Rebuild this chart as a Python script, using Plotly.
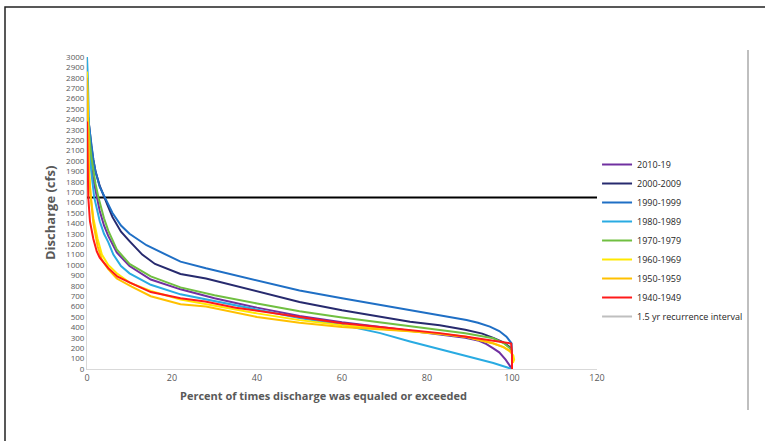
import plotly.graph_objects as go

# ---- data ----
series_names = ["2010-19", "2000-2009", "1990-1999", "1980-1989", "1970-1979",
                "1960-1969", "1950-1959", "1940-1949"]

x_2010 = [0, 0.5, 1, 1.5, 2, 2.3, 3, 4, 5, 7, 10, 15, 22, 30, 40, 50, 60, 70, 76, 83, 89, 92, 94, 95.6, 97, 98.5, 99.5, 100]
y_2010 = [2300, 2100, 1950, 1820, 1720, 1650, 1520, 1380, 1280, 1120, 990, 860, 766, 680, 590, 510, 450, 400, 370, 335, 300, 275, 240, 199, 160, 90, 25, 0]

x_2000 = [0.3, 0.7, 1, 1.5, 2, 3, 4.2, 5, 6, 8, 10, 13, 16, 22, 28, 35, 40, 50, 60, 70, 76, 83, 89, 93, 95.6, 98, 99.5, 100]
y_2000 = [2420, 2250, 2150, 2010, 1900, 1760, 1650, 1560, 1460, 1320, 1230, 1100, 1010, 913, 870, 800, 745, 645, 565, 495, 455, 420, 378, 340, 300, 255, 210, 170]

x_1990 = [0.3, 0.7, 1, 1.5, 2, 3, 4.2, 5, 6, 8, 10, 14, 18.4, 22, 28, 35, 40, 50, 60, 70, 76, 83, 89.3, 92, 94.8, 97, 98.7, 99.9, 100]
y_1990 = [2400, 2250, 2150, 2010, 1900, 1750, 1650, 1580, 1500, 1380, 1300, 1190, 1100, 1032, 968, 900, 850, 755, 680, 610, 567, 519, 471, 445, 407, 365, 311, 247, 120]

x_1980 = [0, 0.2, 0.5, 1, 1.7, 2.5, 3, 4, 5, 6.2, 8, 10, 15, 22, 28, 35, 40, 50, 60, 69, 76, 83, 89.3, 95.6, 100]
y_1980 = [3000, 2800, 2300, 1900, 1650, 1490, 1420, 1300, 1220, 1100, 990, 920, 810, 718, 670, 610, 570, 490, 425, 345, 265, 190, 125, 58, 0]

x_1970 = [0, 0.5, 1, 1.5, 2, 2.7, 4, 5, 7, 10, 15, 22, 30, 40, 50, 60, 70, 76, 83, 89, 95.6, 98, 99.5, 100]
y_1970 = [2600, 2250, 2050, 1900, 1780, 1650, 1450, 1330, 1150, 1010, 890, 785, 710, 630, 555, 495, 440, 407, 375, 343, 295, 250, 200, 167]

x_1960 = [0, 0.2, 0.5, 0.9, 1.5, 2.5, 3.5, 5, 7, 10, 15, 22, 30, 40, 50, 60, 70, 76, 83, 89.3, 95.6, 98, 99.5, 100.3, 100.5, 100.2]
y_1960 = [2860, 2400, 1900, 1650, 1450, 1250, 1100, 1000, 920, 830, 750, 668, 610, 535, 470, 420, 385, 365, 340, 311, 247, 210, 170, 130, 90, 60]

x_1950 = [0, 0.2, 0.5, 0.9, 1.5, 2.5, 3.5, 5, 7, 10.5, 15, 22, 28, 40, 50, 60, 70, 76, 83, 89.3, 95.6, 98, 99.5, 100]
y_1950 = [2800, 2300, 1850, 1650, 1400, 1180, 1050, 960, 870, 792, 700, 622, 600, 500, 445, 405, 380, 362, 338, 308, 245, 210, 175, 150]

x_1940 = [0, 0.1, 0.3, 0.7, 1.5, 2.3, 3, 5, 7.2, 10.5, 15, 22, 27.8, 35, 40, 50, 60, 70, 76, 83, 89.3, 95.6, 99, 99.8, 100, 100]
y_1940 = [2380, 2000, 1650, 1420, 1250, 1130, 1070, 970, 888, 824, 740, 680, 648, 590, 560, 495, 440, 398, 375, 345, 311, 272, 255, 245, 150, 0]

recurrence_x = [0, 120]
recurrence_y = [1650, 1650]

x_ticks = [0, 20, 40, 60, 80, 100, 120]

xs = [x_2010, x_2000, x_1990, x_1980, x_1970, x_1960, x_1950, x_1940]
ys = [y_2010, y_2000, y_1990, y_1980, y_1970, y_1960, y_1950, y_1940]
colors = ["#7030A0", "#272A6E", "#1F6FC5", "#29ABE2", "#70BF41",
          "#FFE800", "#FFC000", "#FF1A1A"]

fig = go.Figure()

# recurrence interval line (black in the plot)
fig.add_trace(go.Scatter(x=recurrence_x, y=recurrence_y, mode="lines",
                         line=dict(color="black", width=2), showlegend=False,
                         hoverinfo="skip"))

for name, xv, yv, c in zip(series_names, xs, ys, colors):
    fig.add_trace(go.Scatter(x=xv, y=yv, mode="lines", name=name,
                             line=dict(color=c, width=2)))

# legend entry for the recurrence interval (gray in the legend)
fig.add_trace(go.Scatter(x=[None], y=[None], mode="lines",
                         name="1.5 yr recurrence interval",
                         line=dict(color="#BFBFBF", width=2)))

W, H = 765, 441
ML, MT, MB = 87, 57, 72
PAPER_W = W - ML          # right margin 0; the axes use a domain instead
PLOT_W = 510
PLOT_H = H - MT - MB      # 312

fig.update_layout(
    width=W, height=H, autosize=False,
    margin=dict(l=ML, r=0, t=MT, b=MB, pad=0, autoexpand=False),
    paper_bgcolor="white", plot_bgcolor="white",
    font=dict(family="Open Sans, Liberation Sans, sans-serif", color="#595959"),
    showlegend=True,
    legend=dict(xref="paper", yref="paper",
                x=0.975, y=1 - (150 - MT) / PLOT_H,
                xanchor="right", yanchor="top",
                font=dict(size=9, color="#262626"),
                bgcolor="rgba(0,0,0,0)", tracegroupgap=0),
    xaxis=dict(domain=[0, PLOT_W / PAPER_W], range=[0, 120], tickvals=x_ticks,
               showgrid=False, zeroline=False, automargin=False,
               showline=True, linecolor="#D9D9D9", linewidth=1,
               ticks="", tickfont=dict(size=9, color="#595959")),
    yaxis=dict(range=[0, 3000], dtick=100, showgrid=False, zeroline=False,
               automargin=False,
               showline=True, linecolor="#D9D9D9", linewidth=1,
               ticks="", tickfont=dict(size=8, color="#595959")),
    annotations=[
        dict(text="<b>Discharge (cfs)</b>", xref="x domain", yref="y domain",
             x=-37 / PLOT_W, y=0.5, xanchor="center", yanchor="middle",
             textangle=-90, showarrow=False,
             font=dict(size=13, color="#595959")),
        dict(text="<b>Percent of times discharge was equaled or exceeded</b>",
             xref="x domain", yref="y domain", x=(323 - ML) / PLOT_W, y=-0.055,
             xanchor="center", yanchor="top", showarrow=False,
             font=dict(size=11, color="#595959")),
    ],
    shapes=[
        # outer frame
        dict(type="rect", xref="x domain", yref="y domain",
             x0=(5 - ML) / PLOT_W, y0=-80 / PLOT_H, x1=1.5, y1=(369 - 7) / PLOT_H,
             line=dict(color="#222222", width=1.5), fillcolor="rgba(0,0,0,0)",
             layer="below"),
        # gray vertical line at right
        dict(type="line", xref="x domain", yref="y domain",
             x0=(748 - ML) / PLOT_W, x1=(748 - ML) / PLOT_W,
             y0=(369 - 410) / PLOT_H, y1=(369 - 50) / PLOT_H,
             line=dict(color="#BFBFBF", width=2)),
    ],
)

fig.write_html(
    "out.html",
    config={"responsive": False, "displayModeBar": False},
    post_script="document.body.style.margin='0';document.body.style.overflow='hidden';",
)
